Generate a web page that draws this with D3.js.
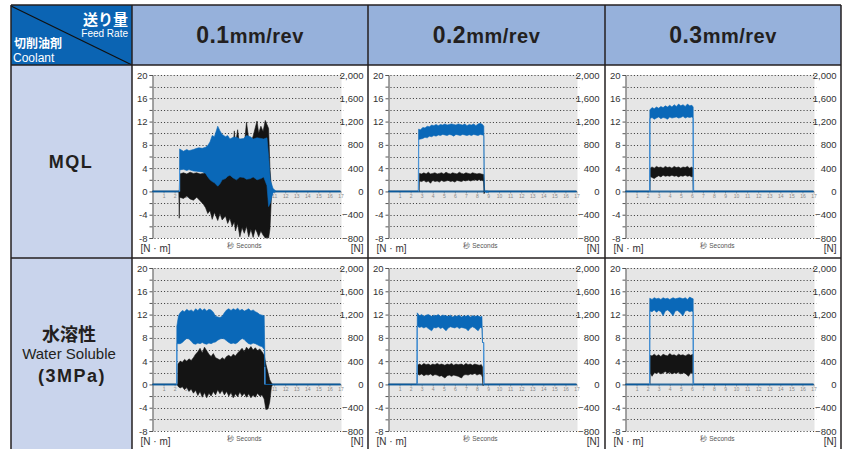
<!DOCTYPE html>
<html lang="ja">
<head>
<meta charset="UTF-8" />
<title>Feed rate vs coolant: torque and thrust</title>
<script src="https://d3js.org/d3.v7.min.js"></script>
<style>
  body { margin: 0; background: #fff; font-family: "Liberation Sans", Arial, sans-serif; }
  svg { display: block; }
  .tick text { font-family: "Liberation Sans Narrow", "Arial Narrow", "Liberation Sans", sans-serif; }
</style>
</head>
<body>
<svg width="851" height="449"></svg>
<script>
// column / row labels
const feedRates = ["0.1", "0.2", "0.3"];
const coolantRows = [["MQL"], ["水溶性", "Water Soluble", "(3MPa)"]];
const leftTicks = [-8, -4, 0, 4, 8, 12, 16, 20];
const rightTicks = [-800, -400, 0, 400, 800, 1200, 1600, 2000];
const secTicks = d3.range(1, 18);

// series: [seconds, low, high]
// blue = thrust [N] (right axis), black = torque [N·m] (left axis)
const mql01Blue = [[0,0,0],[2.44,0,0],[2.45,370,730],[2.8,380,690],[3.1,360,720],[3.3,375,700],[3.7,350,720],[4.0,345,740],[4.2,340,750],[4.5,335,740],[4.8,310,760],[5.0,250,790],[5.2,200,850],[5.4,170,960],[5.6,150,940],[5.9,90,1120],[6.1,130,1040],[6.3,200,980],[6.6,220,940],[6.8,260,960],[7.0,280,900],[7.3,230,930],[7.6,200,930],[7.9,250,900],[8.25,240,910],[8.5,210,960],[8.85,220,940],[9.1,250,900],[9.45,200,920],[9.8,220,910],[10.05,250,900],[10.35,100,920],[10.5,-260,600],[10.65,-200,200],[10.9,-20,50],[11.2,0,0],[17,0,0]];
const mql01Black = [[0,0,0],[2.38,0,0],[2.42,-4.6,0],[2.46,-1.0,3.0],[2.8,-1.2,3.2],[3.1,-0.8,3.0],[3.4,-1.3,3.3],[3.7,-1.5,3.1],[4.0,-1.0,3.2],[4.3,-1.6,3.0],[4.6,-2.2,3.1],[4.8,-2.8,3.3],[5.0,-3.8,3.4],[5.2,-3.3,3.5],[5.4,-4.8,3.2],[5.6,-3.6,3.4],[5.9,-5.0,2.9],[6.1,-3.8,3.4],[6.3,-4.9,3.6],[6.6,-4.2,4.5],[6.8,-5.5,5.0],[7.0,-4.6,6.2],[7.2,-6.0,5.5],[7.4,-5.2,10.4],[7.5,-6.8,8.0],[7.7,-5.5,10.6],[7.9,-7.8,7.5],[8.1,-6.2,9.0],[8.3,-7.2,8.0],[8.5,-6.0,11.9],[8.7,-7.8,9.0],[8.9,-6.5,8.5],[9.1,-7.9,9.5],[9.3,-6.4,11.0],[9.45,-7.0,12.1],[9.6,-7.8,10.0],[9.8,-6.8,11.2],[10.0,-7.5,10.3],[10.2,-8.0,12.2],[10.35,-7.9,11.5],[10.5,-8.0,10.8],[10.62,-6.5,4.0],[10.75,-1.0,0.5],[10.85,0,0],[17,0,0]];

const mql02Blue = [[0,0,0],[2.7,0,0],[2.72,890,1070],[2.9,900,1060],[3.1,910,1100],[3.3,930,1090],[3.5,920,1120],[3.7,950,1110],[3.9,940,1140],[4.1,960,1130],[4.3,950,1150],[4.5,970,1130],[4.7,960,1150],[4.9,980,1140],[5.1,970,1160],[5.3,960,1140],[5.5,980,1150],[5.7,970,1160],[5.9,950,1150],[6.1,980,1140],[6.3,970,1160],[6.5,960,1150],[6.7,980,1140],[6.9,970,1160],[7.1,960,1130],[7.3,975,1150],[7.5,960,1140],[7.7,980,1160],[7.9,970,1130],[8.1,960,1160],[8.3,980,1170],[8.5,970,1150],[8.62,960,1120],[8.66,0,0],[8.9,-20,10],[9.1,0,0],[17,0,0]];
const mql02Black = [[0,0,0],[2.76,0,0],[2.78,1.8,3.1],[3.0,1.7,3.0],[3.2,1.9,3.2],[3.4,1.6,3.0],[3.6,1.8,3.3],[3.8,1.4,3.0],[4.0,1.9,3.1],[4.2,1.7,3.2],[4.4,1.8,3.0],[4.6,1.6,3.1],[4.8,1.9,3.2],[5.0,1.7,3.0],[5.2,1.8,3.3],[5.4,1.9,3.1],[5.6,1.7,3.0],[5.8,1.8,3.2],[6.0,1.6,3.1],[6.2,1.9,3.0],[6.4,1.8,3.3],[6.6,1.7,3.1],[6.8,1.9,3.0],[7.0,1.8,3.2],[7.2,2.0,3.1],[7.4,1.8,3.0],[7.6,1.9,3.2],[7.8,2.0,3.1],[8.0,1.9,3.0],[8.2,2.0,3.1],[8.4,1.9,3.0],[8.6,1.8,2.9],[8.64,-0.4,2.0],[8.7,0,0],[17,0,0]];

const mql03Blue = [[0,0,0],[2.18,0,0],[2.2,1250,1400],[2.4,1270,1440],[2.6,1240,1420],[2.8,1260,1450],[3.0,1280,1430],[3.2,1250,1460],[3.4,1270,1440],[3.6,1260,1470],[3.8,1240,1450],[4.0,1280,1480],[4.2,1260,1450],[4.4,1270,1490],[4.6,1280,1460],[4.8,1260,1500],[5.0,1270,1470],[5.2,1290,1490],[5.4,1260,1460],[5.6,1280,1500],[5.8,1270,1470],[6.0,1280,1480],[6.12,1260,1450],[6.16,0,0],[17,0,0]];
const mql03Black = [[0,0,0],[2.2,0,0],[2.22,2.6,4.0],[2.4,2.4,4.2],[2.6,2.2,4.0],[2.8,2.5,4.3],[3.0,2.7,4.1],[3.2,2.5,4.2],[3.4,2.8,4.0],[3.6,2.6,4.3],[3.8,2.7,4.1],[4.0,2.6,4.2],[4.2,2.8,4.0],[4.4,2.6,4.3],[4.6,2.7,4.1],[4.8,2.5,4.2],[5.0,2.7,4.0],[5.2,2.6,4.2],[5.4,2.8,4.1],[5.6,2.6,4.3],[5.8,2.7,4.0],[6.0,2.5,4.2],[6.1,2.6,4.0],[6.14,0,0],[17,0,0]];

const wat01Blue = [[0,0,0],[2.18,0,0],[2.2,700,1000],[2.35,700,1180],[2.5,700,1230],[2.7,720,1270],[2.9,760,1250],[3.1,790,1290],[3.3,780,1260],[3.5,740,1280],[3.7,700,1250],[3.9,690,1300],[4.1,710,1270],[4.3,700,1310],[4.5,720,1270],[4.7,700,1300],[4.9,690,1260],[5.1,710,1290],[5.3,700,1280],[5.5,720,1240],[5.7,730,1170],[5.9,760,1160],[6.1,780,1150],[6.3,790,1170],[6.5,780,1230],[6.7,750,1280],[6.9,720,1300],[7.1,700,1270],[7.3,710,1300],[7.5,700,1280],[7.7,720,1310],[7.9,760,1270],[8.1,790,1290],[8.3,770,1260],[8.5,730,1280],[8.7,700,1300],[8.9,690,1260],[9.1,710,1280],[9.3,700,1250],[9.5,680,1230],[9.7,660,1200],[9.9,650,1190],[10.1,600,1180],[10.15,300,600],[10.2,0,0],[17,0,0]];
const wat01Black = [[0,0,0],[2.27,0,0],[2.3,-0.3,3.5],[2.5,-0.6,4.0],[2.7,-0.4,3.8],[2.9,-0.9,4.3],[3.1,-0.5,4.0],[3.3,-1.2,4.4],[3.5,-0.8,4.1],[3.7,-1.5,4.6],[3.9,-1.0,5.2],[4.1,-1.9,5.6],[4.3,-1.2,6.2],[4.5,-2.2,5.4],[4.7,-1.4,6.4],[4.9,-2.3,5.8],[5.1,-1.5,5.2],[5.3,-2.0,4.8],[5.5,-1.2,5.3],[5.7,-1.8,4.6],[5.9,-0.9,4.4],[6.1,-1.6,4.2],[6.3,-1.0,4.6],[6.5,-1.8,4.3],[6.7,-1.2,4.8],[6.9,-2.0,5.0],[7.1,-1.4,4.7],[7.3,-2.3,5.2],[7.5,-1.6,4.9],[7.7,-2.1,5.4],[7.9,-1.3,5.8],[8.1,-2.0,6.2],[8.3,-1.5,5.6],[8.5,-2.2,6.4],[8.7,-1.6,6.0],[8.9,-2.3,6.5],[9.1,-1.8,5.9],[9.3,-2.2,6.3],[9.5,-1.5,5.8],[9.7,-2.0,6.1],[9.9,-1.8,5.6],[10.1,-2.5,5.0],[10.25,-4.3,3.5],[10.45,-4.2,2.0],[10.6,-3.0,0.8],[10.75,-0.5,0.3],[10.85,0,0],[17,0,0]];

const wat02Blue = [[0,0,0],[2.58,0,0],[2.6,1000,1230],[2.8,980,1180],[3.0,990,1200],[3.2,970,1170],[3.4,990,1190],[3.6,960,1200],[3.9,920,1170],[4.1,980,1190],[4.3,970,1180],[4.5,990,1200],[4.7,960,1170],[4.9,980,1190],[5.2,920,1180],[5.4,970,1170],[5.6,990,1190],[5.8,980,1160],[6.0,970,1180],[6.2,990,1170],[6.4,960,1190],[6.6,980,1160],[6.8,970,1180],[7.0,960,1170],[7.2,920,1190],[7.4,970,1160],[7.6,990,1180],[7.8,970,1170],[8.1,920,1180],[8.3,980,1160],[8.45,970,1170],[8.5,720,720],[8.6,720,720],[8.63,0,0],[17,0,0]];
const wat02Black = [[0,0,0],[2.61,0,0],[2.63,1.8,3.3],[2.8,1.6,3.5],[3.0,1.8,3.3],[3.2,1.5,3.6],[3.4,1.7,3.4],[3.6,1.6,3.5],[3.8,1.8,3.3],[4.0,1.5,3.5],[4.2,1.7,3.4],[4.4,1.6,3.6],[4.6,1.4,3.4],[4.8,1.5,3.5],[5.1,1.1,3.3],[5.3,1.5,3.5],[5.5,1.6,3.4],[5.7,1.4,3.6],[5.9,1.6,3.3],[6.1,1.5,3.5],[6.3,1.4,3.4],[6.6,1.1,3.5],[6.8,1.6,3.3],[7.0,1.7,3.6],[7.2,1.6,3.4],[7.4,1.8,3.5],[7.6,1.7,3.3],[7.8,1.9,3.5],[8.0,1.6,3.4],[8.2,1.8,3.3],[8.4,1.7,3.4],[8.5,1.2,3.0],[8.55,-0.2,0.2],[8.65,0,0],[17,0,0]];

const wat03Blue = [[0,0,0],[2.17,0,0],[2.19,1260,1480],[2.4,1250,1460],[2.6,1280,1490],[2.8,1240,1470],[3.0,1270,1480],[3.2,1250,1460],[3.4,1180,1490],[3.6,1260,1470],[3.8,1280,1480],[4.0,1250,1460],[4.3,1180,1490],[4.5,1260,1470],[4.7,1270,1480],[4.9,1240,1490],[5.2,1180,1470],[5.4,1260,1490],[5.6,1270,1460],[5.8,1250,1500],[6.0,1260,1480],[6.12,1240,1470],[6.16,0,0],[17,0,0]];
const wat03Black = [[0,0,0],[2.2,0,0],[2.22,2.0,5.0],[2.4,1.4,4.9],[2.6,2.0,5.2],[2.8,1.9,4.9],[3.0,2.1,5.1],[3.2,1.8,4.8],[3.4,2.0,5.2],[3.6,2.2,5.0],[3.8,1.9,4.9],[4.0,2.1,5.3],[4.2,1.8,5.0],[4.4,2.0,5.1],[4.6,1.9,4.9],[4.8,2.1,5.2],[5.0,1.8,5.0],[5.2,2.0,5.1],[5.4,1.9,4.9],[5.7,1.4,5.2],[5.9,2.0,5.0],[6.1,1.9,5.2],[6.14,0,0],[17,0,0]];

const panels = [
  { row: 0, col: 0, blue: mql01Blue, black: mql01Black },
  { row: 0, col: 1, blue: mql02Blue, black: mql02Black },
  { row: 0, col: 2, blue: mql03Blue, black: mql03Black },
  { row: 1, col: 0, blue: wat01Blue, black: wat01Black },
  { row: 1, col: 1, blue: wat02Blue, black: wat02Black },
  { row: 1, col: 2, blue: wat03Blue, black: wat03Black }
];

const svg = d3.select("svg");
const tableL = 11, tableR = 841, tableT = 5, headB = 65, rowSplit = 258, tableB = 460;
const colEdges = [132, 368, 605, 841];
const rowTops = [headB, rowSplit];
const border = "#231f20";

// cell backgrounds
svg.append("rect").attr("x", tableL).attr("y", tableT).attr("width", 132 - tableL).attr("height", headB - tableT).attr("fill", "#0b64b3");
svg.append("rect").attr("x", 132).attr("y", tableT).attr("width", tableR - 132).attr("height", headB - tableT).attr("fill", "#96b1db");
svg.append("rect").attr("x", tableL).attr("y", headB).attr("width", 132 - tableL).attr("height", tableB - headB).attr("fill", "#c9d4ec");

// corner cell
svg.append("line").attr("x1", tableL).attr("y1", tableT + 1).attr("x2", 132).attr("y2", headB)
  .attr("stroke", "#111").attr("stroke-width", 1.3);
svg.append("text").attr("x", 128).attr("y", 25).attr("text-anchor", "end")
  .attr("fill", "#fff").style("font-family", "'Noto Sans CJK JP', sans-serif").style("font-weight", "700").style("font-size", "15px").text("送り量");
svg.append("text").attr("x", 128).attr("y", 37).attr("text-anchor", "end")
  .attr("fill", "#fff").style("font-family", "'Liberation Sans Narrow', 'Liberation Sans', sans-serif").style("font-size", "10px").text("Feed Rate");
svg.append("text").attr("x", 14).attr("y", 48)
  .attr("fill", "#fff").style("font-family", "'Noto Sans CJK JP', sans-serif").style("font-weight", "700").style("font-size", "12px").text("切削油剤");
svg.append("text").attr("x", 13).attr("y", 61.5)
  .attr("fill", "#fff").style("font-size", "12px").text("Coolant");

// feed rate headers
feedRates.forEach((f, i) => {
  const t = svg.append("text")
    .attr("x", (colEdges[i] + colEdges[i + 1]) / 2)
    .attr("y", 43)
    .attr("text-anchor", "middle")
    .attr("fill", "#231f20")
    .style("font-weight", "700")
    .style("letter-spacing", "0.5px");
  t.append("tspan").style("font-size", "23px").text(f);
  t.append("tspan").style("font-size", "20px").text("mm/rev");
});

// coolant labels
svg.append("text").attr("x", 71).attr("y", 168).attr("text-anchor", "middle")
  .attr("fill", "#231f20").style("font-weight", "700").style("font-size", "18px").style("letter-spacing", "1.5px")
  .text(coolantRows[0][0]);
svg.append("text").attr("x", 69).attr("y", 341).attr("text-anchor", "middle")
  .attr("fill", "#231f20").style("font-family", "'Noto Sans CJK JP', sans-serif").style("font-weight", "700").style("font-size", "18px")
  .text(coolantRows[1][0]);
svg.append("text").attr("x", 69).attr("y", 359).attr("text-anchor", "middle")
  .attr("fill", "#231f20").style("font-size", "15px")
  .text(coolantRows[1][1]);
svg.append("text").attr("x", 72).attr("y", 382).attr("text-anchor", "middle")
  .attr("fill", "#231f20").style("font-weight", "700").style("font-size", "18px").style("letter-spacing", "1.5px")
  .text(coolantRows[1][2]);

// panels
panels.forEach(p => {
  const cellL = colEdges[p.col];
  const x0 = cellL + 20.5, x1 = cellL + 208.5;
  const top = rowTops[p.row] + 10, bottom = top + 163;

  const x = d3.scaleLinear().domain([0, 17]).range([x0, x1]);
  const yL = d3.scaleLinear().domain([-8, 20]).range([bottom, top]);
  const yR = d3.scaleLinear().domain([-800, 2000]).range([bottom, top]);

  const g = svg.append("g");

  g.append("rect").attr("x", x0).attr("y", top).attr("width", x1 - x0 + 1).attr("height", bottom - top)
    .attr("fill", "#e6e6e6");

  // dotted grid every 2 N·m
  g.selectAll("line.grid")
    .data(d3.range(-8, 21, 2).filter(v => v !== 0))
    .enter().append("line")
    .attr("class", "grid")
    .attr("x1", x0 + 2).attr("x2", x1 + 3)
    .attr("y1", d => Math.round(yL(d)) + 0.5).attr("y2", d => Math.round(yL(d)) + 0.5)
    .attr("stroke", "#333").attr("stroke-width", 1).attr("stroke-dasharray", "1,2.2");

  // left axis
  const la = g.append("g").attr("transform", `translate(${x0},0)`)
    .call(d3.axisLeft(yL).tickValues(d3.range(-8, 21, 2)).tickSize(3).tickPadding(2)
      .tickFormat(d => leftTicks.includes(d) ? d : ""));
  la.select(".domain").attr("stroke", "#555");
  la.selectAll(".tick line").attr("stroke", "#555");
  la.selectAll(".tick text").attr("fill", "#333").style("font-size", "9.5px");

  // right axis labels
  const ra = g.append("g").attr("transform", `translate(${x1 + 23},0)`)
    .call(d3.axisRight(yR).tickValues(rightTicks).tickSize(0).tickPadding(0).tickFormat(d3.format(",")));
  ra.select(".domain").remove();
  ra.selectAll(".tick text").attr("text-anchor", "end").attr("fill", "#333").style("font-size", "9.5px");

  // seconds axis on the zero line
  const xa = g.append("g").attr("transform", `translate(0,${yL(0)})`)
    .call(d3.axisBottom(x).tickValues(secTicks).tickSize(2).tickPadding(1));
  xa.select(".domain").remove();
  xa.selectAll(".tick line").attr("stroke", "#999");
  xa.selectAll(".tick text").attr("fill", "#888").style("font-size", "5px");

  g.append("line").attr("x1", x0).attr("x2", x1).attr("y1", yL(0)).attr("y2", yL(0))
    .attr("stroke", "#2a6a9e").attr("stroke-width", 2);

  // torque band (black), then thrust band (blue) on top
  g.append("path").datum(p.black)
    .attr("d", d3.area().x(d => x(d[0])).y0(d => yL(d[1])).y1(d => yL(d[2])))
    .attr("fill", "#141414").attr("stroke", "#141414").attr("stroke-width", 0.6);

  g.append("path").datum(p.blue)
    .attr("d", d3.area().x(d => x(d[0])).y0(d => yR(d[1])).y1(d => yR(d[2])))
    .attr("fill", "#0a68b8").attr("stroke", "#0a68b8").attr("stroke-width", 0.6);

  // rise / fall edges of the thrust signal
  const active = p.blue.filter(d => d[2] !== 0 || d[1] !== 0);
  const edges = [active[0], active[active.length - 1]];
  g.selectAll("line.edge").data(edges).enter().append("line")
    .attr("class", "edge")
    .attr("x1", d => x(d[0])).attr("x2", d => x(d[0]))
    .attr("y1", yR(0)).attr("y2", d => yR(Math.max(d[1], 0)))
    .attr("stroke", "#4a93d6").attr("stroke-width", 1.2);

  // unit labels
  g.append("text").attr("x", x0 - 12).attr("y", bottom + 14)
    .attr("fill", "#333").style("font-size", "10px").text("[N · m]");
  g.append("text").attr("x", x1 + 23).attr("y", bottom + 14).attr("text-anchor", "end")
    .attr("fill", "#333").style("font-size", "10px").text("[N]");
  g.append("text").attr("x", (x0 + x1) / 2 - 2).attr("y", bottom + 10).attr("text-anchor", "middle")
    .attr("fill", "#555").style("font-size", "6.5px").text("秒 Seconds");
});

// table rules
const rules = [
  [tableL, tableT, tableR, tableT],
  [tableL, headB, tableR, headB],
  [tableL, rowSplit, tableR, rowSplit],
  [tableL, tableT, tableL, tableB],
  ...colEdges.map(c => [c, tableT, c, tableB])
];
svg.selectAll("line.rule").data(rules).enter().append("line")
  .attr("class", "rule")
  .attr("x1", d => d[0]).attr("y1", d => d[1]).attr("x2", d => d[2]).attr("y2", d => d[3])
  .attr("stroke", border).attr("stroke-width", 1.5);
</script>
</body>
</html>
